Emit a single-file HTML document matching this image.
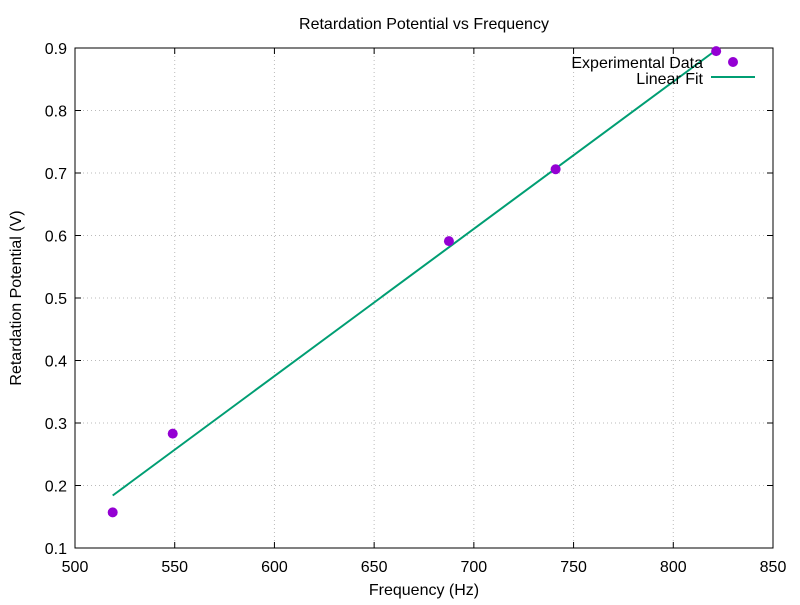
<!DOCTYPE html>
<html><head><meta charset="utf-8"><style>
body{margin:0;background:#fff}
svg text{font-family:"Liberation Sans",sans-serif;font-size:16px;fill:#000}
</style></head><body>
<svg id="chart" width="800" height="600">
<rect width="800" height="600" fill="#fff"/>
<text x="424" y="29" text-anchor="middle">Retardation Potential vs Frequency</text>
<g id="grid"></g>
<g id="axes"></g>
<g id="marks"></g>
<text x="424" y="595" text-anchor="middle">Frequency (Hz)</text>
<text transform="translate(21,298) rotate(-90)" text-anchor="middle">Retardation Potential (V)</text>
<g>
<text x="703" y="68" text-anchor="end">Experimental Data</text>
<circle cx="733" cy="62" r="5" fill="#9400d3"/>
<text x="703" y="84" text-anchor="end">Linear Fit</text>
<line x1="711" y1="77" x2="755" y2="77" stroke="#009e73" stroke-width="2"/>
</g>
</svg>
<script>
const xTicks=[500,550,600,650,700,750,800,850];
const yTicks=[0.1,0.2,0.3,0.4,0.5,0.6,0.7,0.8,0.9];
const freqs=[518.9,549,687.5,741,821.5];
const volts=[0.157,0.283,0.591,0.706,0.895];
const fitX=[518.9,822];
const fitY=[0.184,0.898];
const L=75,R=773,T=48,B=548;
const sx=v=>L+(v-500)/350*(R-L);
const sy=v=>B-(v-0.1)/0.8*(B-T);
const NS="http://www.w3.org/2000/svg";
function mk(p,tag,a){const e=document.createElementNS(NS,tag);for(const k in a)e.setAttribute(k,a[k]);p.appendChild(e);return e;}
const grid=document.getElementById('grid'),axes=document.getElementById('axes'),marks=document.getElementById('marks');
xTicks.forEach(t=>{const x=sx(t);
 if(t>500&&t<850){const g=mk(grid,'line',{x1:x,x2:x,y1:T,y2:B,stroke:'#bbb','stroke-dasharray':'1,3'});
 }
 const k=mk(axes,'line',{x1:x,x2:x,y1:B,y2:B-6,stroke:'#000'});
 const k2=mk(axes,'line',{x1:x,x2:x,y1:T,y2:T+6,stroke:'#000'});
 const l=mk(axes,'text',{x:x,y:B+24,'text-anchor':'middle'});l.textContent=t;});
yTicks.forEach(t=>{const y=sy(t);
 if(t>0.1&&t<0.9){const g=mk(grid,'line',{x1:L,x2:R,y1:y,y2:y,stroke:'#bbb','stroke-dasharray':'1,3'});
 }
 const k=mk(axes,'line',{x1:L,x2:L+6,y1:y,y2:y,stroke:'#000'});
 const k2=mk(axes,'line',{x1:R,x2:R-6,y1:y,y2:y,stroke:'#000'});
 const l=mk(axes,'text',{x:L-8,y:y+6,'text-anchor':'end'});l.textContent=t.toFixed(1);});
const fr=mk(axes,'rect',{x:L,y:T,width:R-L,height:B-T,fill:'none',stroke:'#000','stroke-width':1});

const fl=mk(marks,'line',{x1:sx(fitX[0]),y1:sy(fitY[0]),x2:sx(fitX[1]),y2:sy(fitY[1]),stroke:'#009e73','stroke-width':2});

freqs.forEach((f,i)=>{const c=mk(marks,'circle',{cx:sx(f),cy:sy(volts[i]),r:5,fill:'#9400d3'});
 });
</script>
</body></html>
